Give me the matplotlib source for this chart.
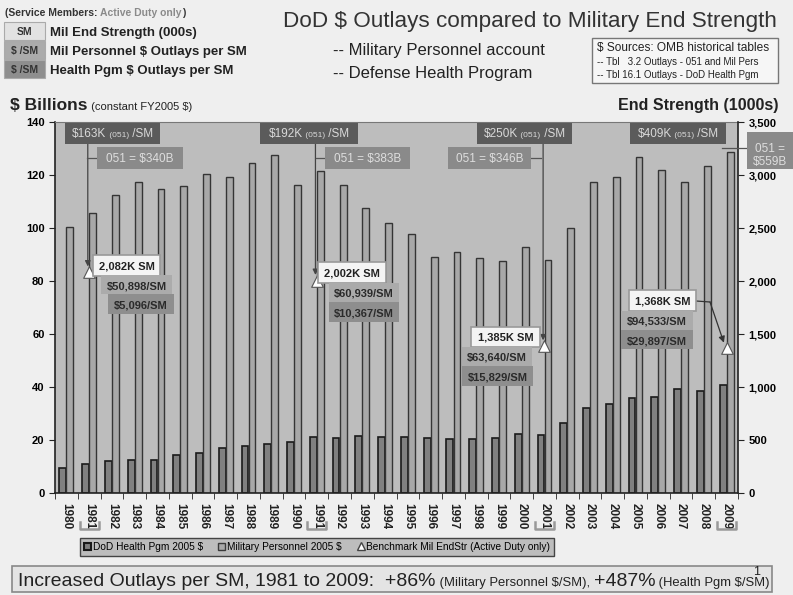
import matplotlib
matplotlib.use("Agg")
import matplotlib.pyplot as plt
import numpy as np
from matplotlib.patches import Rectangle, Patch
from matplotlib.lines import Line2D
from matplotlib.transforms import blended_transform_factory

plt.rcParams['font.family'] = ['Liberation Sans', 'DejaVu Sans']

# Data
years = list(range(1980, 2010))
mil_pers = [100.5, 105.7, 112.5, 117.4, 114.7, 115.8, 120.4, 119.2, 124.6, 127.5,
            116.2, 121.5, 116.2, 107.5, 101.9, 97.7, 89.0, 91.0, 88.7, 87.5,
            92.8, 88.0, 100.0, 117.2, 119.2, 126.8, 121.9, 117.3, 123.4, 128.7]
health = [9.4, 10.9, 12.25, 12.5, 12.5, 14.25, 15.25, 17.0, 17.75, 18.5,
          19.1, 21.0, 20.75, 21.6, 21.25, 21.25, 20.75, 20.4, 20.4, 20.75,
          22.25, 22.0, 26.25, 32.0, 33.75, 36.0, 36.25, 39.4, 38.5, 40.75]
bench_years = [1981, 1991, 2001, 2009]
bench_es = [2082, 2002, 1385, 1368]
per_sm_051 = ['$163K', '$192K', '$250K', '$409K']
total_051 = ['$340B', '$383B', '$346B', '$559B']
milpers_per_sm = ['$50,898/SM', '$60,939/SM', '$63,640/SM', '$94,533/SM']
health_per_sm = ['$5,096/SM', '$10,367/SM', '$15,829/SM', '$29,897/SM']

W, H = 793, 595
fig = plt.figure(figsize=(W / 100, H / 100), dpi=100, facecolor='#efefef')


def px(x, y):
    return x / W, 1 - y / H


def box(x0, y0, x1, y1, fc, ec='none', lw=1.0):
    fig.patches.append(Rectangle(px(x0, y1), (x1 - x0) / W, (y1 - y0) / H,
                                 transform=fig.transFigure, fc=fc, ec=ec, lw=lw, zorder=5))


def rich(x, y, pieces, ha='center', z=6):
    # draw text pieces side by side, baseline at pixel y
    r = fig.canvas.get_renderer()
    texts = [fig.text(0, 0, s, va='baseline', zorder=z, **kw) for s, kw in pieces]
    widths = [t.get_window_extent(r).width for t in texts]
    x0 = x - sum(widths) / 2 if ha == 'center' else x
    for t, w in zip(texts, widths):
        t.set_position(px(x0, y))
        x0 += w


# axes
ax = fig.add_axes([55 / W, 1 - 493 / H, (738 - 55) / W, (493 - 122) / H])
ax.set_facecolor('#bdbdbd')
idx = np.arange(len(years))
ax.bar(idx - 0.155, health, width=0.3, color='#808080', edgecolor='#1a1a1a', lw=1.2, zorder=2)
ax.bar(idx + 0.155, mil_pers, width=0.3, color='#a8a8a8', edgecolor='#353535', lw=1.0, zorder=2)
ax.set_xlim(-0.5, len(years) - 0.5)
ax.set_ylim(0, 140)
ax.set_yticks(range(0, 141, 20))
ax.set_xticks(idx)
ax.set_xticklabels([str(y) for y in years], rotation=270, fontsize=8.5, fontweight='bold', color='#222')
ax.set_xticks(np.arange(-0.5, len(years)), minor=True)
ax.tick_params(axis='x', which='major', length=0, pad=7)
ax.tick_params(axis='x', which='minor', length=4, direction='out', color='#222')
ax.tick_params(axis='y', length=4, direction='out', labelsize=8, color='#222')
for lab in ax.get_yticklabels():
    lab.set_fontweight('bold')
for s in ['left', 'bottom']:
    ax.spines[s].set_color('#222')
    ax.spines[s].set_linewidth(1.2)
ax.spines['top'].set_color('#777')
ax.spines['right'].set_visible(False)

ax2 = ax.twinx()
ax2.set_ylim(0, 3500)
ax2.set_yticks(range(0, 3501, 500))
ax2.set_yticklabels([f'{v:,}' for v in range(0, 3501, 500)], fontsize=8, fontweight='bold')
ax2.tick_params(axis='y', length=4, direction='out', color='#222')
for s in ['left', 'bottom', 'top']:
    ax2.spines[s].set_visible(False)
ax2.spines['right'].set_color('#222')
ax2.spines['right'].set_linewidth(1.2)
b_idx = [years.index(y) for y in bench_years]
ax2.scatter(b_idx, bench_es, marker='^', s=70, facecolor='white', edgecolor='#555', lw=0.8, zorder=5)

# brackets under benchmark years
tr = blended_transform_factory(ax.transData, fig.transFigure)
for i in b_idx:
    xs = [i - 0.42, i - 0.42, i + 0.42, i + 0.42]
    ys = [px(0, 522)[1], px(0, 529)[1], px(0, 529)[1], px(0, 522)[1]]
    fig.lines.append(Line2D(xs, ys, transform=tr, color='#999', lw=1.8))

# vertical connectors from the 051 boxes to the triangles
y_top = 140 * (493 - 144) / 371
for k, i in enumerate(b_idx[:3]):
    ax2.annotate('', xy=(i - 0.06, bench_es[k] + 55), xytext=(i - 0.06, y_top * 25),
                 arrowprops=dict(arrowstyle='-|>', color='#444', lw=0.9, mutation_scale=8,
                                 shrinkA=0, shrinkB=0), zorder=4)

# annotation boxes: (dark, mid, white, light, darker) in pixel coordinates
layout = [
    dict(dark=(65, 123, 160, 144), mid=(97, 147, 183, 169), white=(93, 255, 160, 276),
         light=(101, 275, 172, 294), darker=(108, 294, 174, 314), link=(87, 97)),
    dict(dark=(260, 123, 358, 144), mid=(325, 147, 410, 169), white=(318, 262, 386, 283),
         light=(329, 283, 399, 302), darker=(329, 302, 399, 322), link=(316, 325)),
    dict(dark=(477, 123, 572, 144), mid=(448, 147, 531, 169), white=(471, 327, 540, 347),
         light=(462, 347, 532, 366), darker=(462, 366, 533, 386), link=(531, 541)),
    dict(dark=(630, 123, 726, 144), mid=(747, 132, 793, 169), white=(629, 290, 696, 311),
         light=(621, 311, 693, 330), darker=(621, 330, 693, 349), link=(722, 747)),
]
for k, L in enumerate(layout):
    x0, y0, x1, y1 = L['dark']
    box(x0, y0, x1, y1, '#5b5b5b')
    rich((x0 + x1) / 2, y1 - 7, [(per_sm_051[k], dict(fontsize=8.5, color='#d9d9d9')),
                                  (' (051)', dict(fontsize=6, color='#d9d9d9')),
                                  (' /SM', dict(fontsize=8.5, color='#d9d9d9'))])
    x0, y0, x1, y1 = L['mid']
    box(x0, y0, x1, y1, '#8a8a8a')
    if k < 3:
        rich((x0 + x1) / 2, y1 - 7, [('051 = ' + total_051[k], dict(fontsize=8.5, color='#dedede'))])
    else:
        rich((x0 + x1) / 2, 152, [('051 =', dict(fontsize=8.5, color='#dedede'))])
        rich((x0 + x1) / 2, 165, [(total_051[k], dict(fontsize=8.5, color='#dedede'))])
    la, lb = L['link']
    ly = 148 if k == 3 else 158
    fig.lines.append(Line2D([px(la, 0)[0], px(lb, 0)[0]], [px(0, ly)[1]] * 2,
                            transform=fig.transFigure, color='#555', lw=0.9))
    x0, y0, x1, y1 = L['white']
    box(x0, y0, x1, y1, '#f4f4f4', ec='#999', lw=1.2)
    rich((x0 + x1) / 2, y1 - 6, [(f'{bench_es[k]:,}K SM', dict(fontsize=8, fontweight='bold', color='#222'))])
    x0, y0, x1, y1 = L['light']
    box(x0, y0, x1, y1, '#ababab')
    rich((x0 + x1) / 2, y1 - 5, [(milpers_per_sm[k], dict(fontsize=8, fontweight='bold', color='#2a2a2a'))])
    x0, y0, x1, y1 = L['darker']
    box(x0, y0, x1, y1, '#8e8e8e')
    rich((x0 + x1) / 2, y1 - 5, [(health_per_sm[k], dict(fontsize=8, fontweight='bold', color='#2a2a2a'))])

# 2009 elbow arrow from the white box to the triangle
fig.lines.append(Line2D([px(696, 0)[0], px(710, 0)[0]], [px(0, 301)[1], px(0, 302)[1]],
                        transform=fig.transFigure, color='#333', lw=0.9))
ax2.annotate('', xy=(b_idx[3] - 0.12, bench_es[3] + 50), xytext=px(710, 302),
             textcoords='figure fraction',
             arrowprops=dict(arrowstyle='-|>', color='#333', lw=0.9, mutation_scale=9,
                             shrinkA=0, shrinkB=0), zorder=4)

# axis titles
rich(10, 110, [('$ Billions', dict(fontsize=12.5, fontweight='bold', color='#222')),
               (' (constant FY2005 $)', dict(fontsize=8, color='#222'))], ha='left')
fig.text(*px(779, 110), 'End Strength (1000s)', fontsize=11.5, fontweight='bold', color='#222',
         ha='right', va='baseline')

# top-left key
rich(5, 16, [('(Service Members: ', dict(fontsize=7.5, fontweight='bold', color='#333')),
             ('Active Duty only', dict(fontsize=7.5, fontweight='bold', color='#8a8a8a')),
             (')', dict(fontsize=7.5, fontweight='bold', color='#333'))], ha='left')
key = [('SM', '#e2e2e2', 'Mil End Strength (000s)', 22),
       ('$ /SM', '#ababab', 'Mil Personnel $ Outlays per SM', 41),
       ('$ /SM', '#8e8e8e', 'Health Pgm $ Outlays per SM', 60)]
for tag, fc, lab, y0 in key:
    box(4, y0, 45, y0 + 18, fc, ec='#aaa', lw=0.8)
    rich(24.5, y0 + 13, [(tag, dict(fontsize=7.5, fontweight='bold', color='#333'))])
    rich(50, y0 + 14, [(lab, dict(fontsize=9.5, fontweight='bold', color='#222'))], ha='left')

# title and subtitles
fig.text(*px(530, 27), 'DoD $ Outlays compared to Military End Strength', fontsize=16.2,
         color='#333', ha='center', va='baseline')
fig.text(*px(333, 55), '-- Military Personnel account', fontsize=12, color='#222', va='baseline')
fig.text(*px(333, 78), '-- Defense Health Program', fontsize=12, color='#222', va='baseline')

# sources box
box(592, 38, 778, 83, '#f6f6f6', ec='#777', lw=1)
fig.text(*px(597, 51), '$ Sources: OMB historical tables', fontsize=8.6, color='#222',
         va='baseline', zorder=6)
fig.text(*px(597, 65), '-- Tbl   3.2 Outlays - 051 and Mil Pers', fontsize=7, color='#222',
         va='baseline', zorder=6)
fig.text(*px(597, 78), '-- Tbl 16.1 Outlays - DoD Health Pgm', fontsize=7, color='#222',
         va='baseline', zorder=6)

# bottom legend
handles = [Patch(fc='#808080', ec='#1a1a1a', lw=1.5),
           Patch(fc='#a8a8a8', ec='#3a3a3a', lw=1),
           Line2D([], [], marker='^', ls='none', mfc='white', mec='#444', ms=6)]
labels = ['DoD Health Pgm 2005 $', 'Military Personnel 2005 $', 'Benchmark Mil EndStr (Active Duty only)']
leg = fig.legend(handles, labels, ncol=3, loc='center', bbox_to_anchor=(px(317, 547)),
                 fontsize=7.3, frameon=True, fancybox=False, edgecolor='#444', facecolor='#bdbdbd',
                 handlelength=0.7, handleheight=0.7, handletextpad=0.2, columnspacing=1.5,
                 borderpad=0.4)
leg.get_frame().set_linewidth(1)
leg.get_frame().set_alpha(1)

# bottom summary
box(12, 566, 772, 592, '#e4e4e4', ec='#888', lw=1.2)
rich(394, 586, [('Increased Outlays per SM, 1981 to 2009:  +86%', dict(fontsize=14, color='#222')),
                (' (Military Personnel $/SM), ', dict(fontsize=9.4, color='#222')),
                ('+487%', dict(fontsize=14, color='#222')),
                (' (Health Pgm $/SM)', dict(fontsize=9.4, color='#222'))])
fig.text(*px(757, 575), '1', fontsize=9, color='#222', ha='center', va='baseline', zorder=6)

fig.savefig('out.png', dpi=100, facecolor=fig.get_facecolor())
